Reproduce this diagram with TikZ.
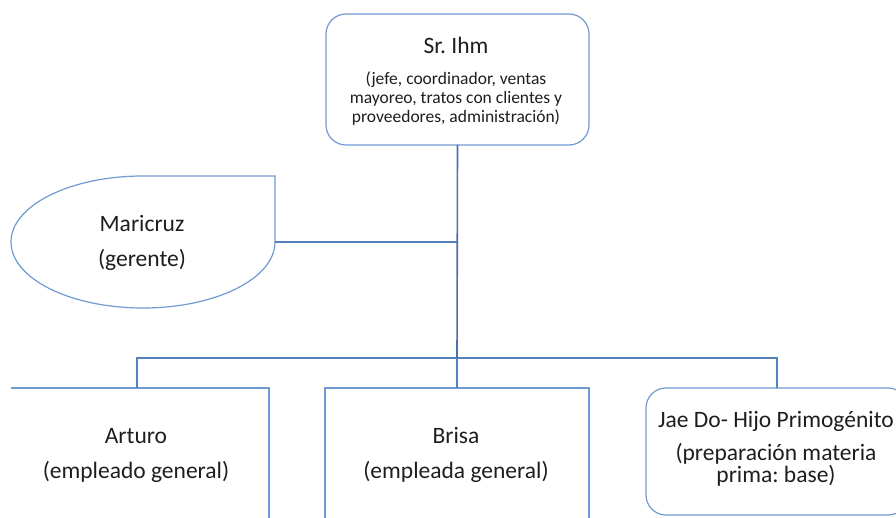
\documentclass[tikz,border=0pt]{standalone}
\usepackage{fontspec}
\setmainfont{Carlito}
\definecolor{edge}{RGB}{110,155,210}
\definecolor{wire}{RGB}{84,130,190}
\definecolor{trunk}{RGB}{72,114,170}
\definecolor{ink}{RGB}{30,30,30}
\begin{document}
\frenchspacing
\begin{tikzpicture}[x=1pt,y=-1pt,
  box/.style={draw=edge, line width=1.2pt, fill=white, inner sep=0pt, outer sep=0pt},
  frame/.style={draw=none, inner sep=0pt, outer sep=0pt},
  edgeline/.style={draw=edge, line width=1.2pt},
  link/.style={draw=wire, line width=1.1pt},
  spine/.style={draw=trunk, line width=1.6pt},
  label/.style={text=ink, align=center, inner sep=0pt, font=\fontsize{23.5}{35}\selectfont},
  note/.style={text=ink, align=center, inner sep=0pt, font=\fontsize{17.5}{18.7}\selectfont}]
\useasboundingbox (0,0) rectangle (896,518);
\clip (0,0) rectangle (896,518);

% --- top: owner
\node[box, rounded corners=20pt, minimum width=263pt, minimum height=131pt] (ihm) at (457.5,79.5) {};
\node[label] (ihmname) at (456,45) {Sr.\ Ihm};
\node[note] (ihmrole) at (456,98.5) {(jefe, coordinador, ventas\\mayoreo, tratos con clientes y\\proveedores, administración)};

% --- manager: ellipse with one square corner
\path[edgeline, fill=white] (275,176) -- (275,242)
  arc[start angle=0, end angle=180, x radius=132, y radius=66]
  arc[start angle=180, end angle=270, x radius=132, y radius=66]
  -- cycle;
\coordinate (mariR) at (275,242);
\node[label] (mari) at (142,243) {Maricruz\\(gerente)};

% --- employees
\node[frame, minimum width=264pt, minimum height=150pt, anchor=north] (arturo) at (137,388) {};
\draw[edgeline] ([xshift=6pt]arturo.north west) -- (arturo.north east) -- (arturo.south east);
\node[label] at (136,455) {Arturo\\(empleado general)};

\node[frame, minimum width=264pt, minimum height=150pt, anchor=north] (brisa) at (457,388) {};
\draw[edgeline] (brisa.south west) -- (brisa.north west) -- (brisa.north east) -- (brisa.south east);
\node[label] at (456,455) {Brisa\\(empleada general)};

\node[box, rounded corners=20pt, minimum width=262pt, minimum height=127pt, anchor=north] (jae) at (777,388) {};
\node[label, font=\fontsize{23.5}{22}\selectfont] at (776,449) {Jae Do- Hijo Primogénito\\[11pt](preparación materia\\prima: base)};

% --- connectors
\coordinate (bus) at (457,358);
\draw[link] (arturo.north) |- (bus) -| (jae.north);
\draw[link] (bus) -- (brisa.north);
\draw[link] (mariR) -- (mariR -| ihm.south);
\draw[spine] (ihm.south) -- (bus);
\end{tikzpicture}
\end{document}
